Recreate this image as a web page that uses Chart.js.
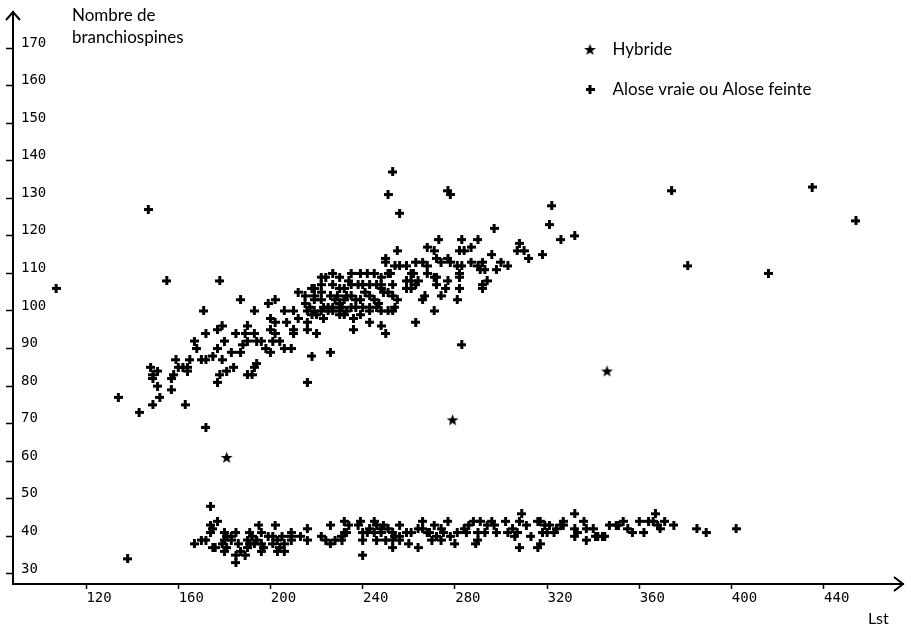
<!DOCTYPE html>
<html>
<head>
<meta charset="utf-8">
<script src="https://cdn.jsdelivr.net/npm/chart.js@4"></script>
<style>
  html, body { margin: 0; padding: 0; background: #fff; }
</style>
</head>
<body>
<canvas id="scatter" width="911" height="630"></canvas>
<script>
"use strict";

const xTicks = [120, 160, 200, 240, 280, 320, 360, 400, 440];
const yTicks = [30, 40, 50, 60, 70, 80, 90, 100, 110, 120, 130, 140, 150, 160, 170];

// Lst, nombre de branchiospines
const hybridPairs = [[181, 61], [279, 71], [346, 84]];

// upper group (Alose vraie)
const aloseUpper = [
  [107,106],[147,127],[374,132],[381,112],[416,110],[435,133],[454,124],
  [155,108],[178,108],[187,103],[171,100],[193,100],[199,102],[202,103],[212,105],[206,100],[210,100],
  [212,98],[200,98],[202,97],[207,97],[210,95],[210,94],[200,95],[202,94],[179,96],[177,95],[172,94],
  [167,92],[168,90],[185,94],[190,96],[189,94],[193,94],[190,92],[188,91],[194,92],[196,92],[201,92],
  [204,92],[198,90],[200,89],[206,90],[209,90],[177,90],[180,92],[172,87],[170,87],[175,88],[179,87],
  [183,89],[187,89],[165,87],[159,87],[160,85],[162,85],[164,85],[164,84],[158,83],[157,82],[148,85],
  [151,84],[149,83],[149,82],[151,80],[157,79],[152,77],[149,75],[134,77],[143,73],[163,75],[177,81],
  [178,83],[181,84],[184,85],[194,86],[193,85],[190,83],[192,83],[172,69],
  [253,137],[251,131],[256,126],[277,132],[278,131],[273,119],[283,119],[290,119],[255,116],[268,117],
  [271,116],[282,116],[284,116],[287,117],[250,114],[250,113],[263,113],[272,114],[274,113],[277,114],
  [278,113],[266,113],[268,112],[287,113],[290,112],[281,112],[283,112],[254,112],[256,112],[259,112],
  [261,110],[262,110],[268,110],[271,109],[282,110],[277,108],[272,109],[272,107],[282,106],[281,103],
  [271,100],[263,97],[283,91],[274,104],[266,103],[267,104],[259,108],[261,108],[264,108],[259,106],
  [261,106],[263,107],[252,110],[251,110],[248,109],[253,107],[251,105],[253,104],[255,103],[254,101],
  [248,106],[249,105],[245,110],[242,110],[239,110],[235,110],[230,109],[234,108],[227,110],[224,109],
  [222,109],[240,107],[238,107],[235,107],[232,106],[230,106],[243,107],[246,107],[248,107],[227,107],
  [222,107],[219,106],[218,106],[222,105],[219,104],[215,104],[226,104],[229,104],[233,104],[235,104],
  [241,105],[243,104],[245,103],[247,102],[237,103],[239,103],[228,103],[230,102],[232,103],[222,103],
  [219,103],[215,102],[217,101],[216,100],[223,101],[225,101],[227,101],[230,101],[231,101],[235,101],
  [237,101],[240,101],[243,101],[246,101],[248,100],[251,100],[253,100],[219,100],[222,100],[225,100],
  [227,100],[230,100],[233,100],[218,99],[220,99],[230,99],[232,99],[236,98],[239,99],[243,100],
  [216,97],[223,98],[243,97],[248,96],[250,94],[236,95],[216,95],[220,94],[218,88],[226,89],[216,81],
  [322,128],[321,123],[326,119],[332,120],[297,122],[308,118],[307,116],[310,116],[312,114],[318,115],
  [296,115],[300,113],[303,112],[292,113],[291,111],[293,111],[298,111],[282,109],[294,108],[292,107],
  [292,106],[276,106]
];

// lower group (Alose feinte)
const aloseLower = [
  [138,34],
  [174,48],[177,44],[174,43],[175,42],[174,41],[167,38],[170,39],[172,39],[175,37],[176,37],[180,41],
  [181,40],[183,40],[185,41],[180,39],[183,39],[181,37],[179,38],[180,36],[185,35],[185,33],[189,35],
  [186,38],[187,36],[191,41],[192,40],[190,39],[191,38],[193,38],[190,37],[195,43],[196,41],[194,39],
  [196,38],[197,37],[196,36],[199,40],[201,40],[202,43],[201,38],[203,39],[204,37],[203,36],[206,38],
  [206,36],[205,40],[209,41],[209,40],[209,39],[213,40],[216,42],[216,39],[222,40],[224,39],[226,43],
  [226,38],[228,39],[231,39],[233,41],[232,44],
  [234,43],[232,41],[231,40],[239,44],[238,43],[240,41],[242,41],[243,42],[240,39],[240,35],[245,44],
  [246,43],[248,42],[245,41],[248,41],[246,39],[250,39],[249,43],[251,42],[253,41],[256,43],[254,40],
  [256,40],[253,39],[256,39],[253,37],[259,41],[260,38],[264,37],[261,41],[264,42],[266,44],[266,42],
  [268,41],[269,41],[271,43],[272,40],[270,39],[274,42],[277,44],[275,41],[278,40],[280,38],[274,39],
  [281,41],[284,42],[286,43],[288,44],[285,41],[289,38],[290,39],[291,44],[294,43],[296,44],[297,43],
  [293,41],[298,41],[290,41],[302,44],[305,42],[303,41],[307,41],[306,40],[309,46],[308,44],[311,43],
  [308,37],[313,40],[316,44],[316,37],
  [317,38],[317,44],[319,43],[318,41],[321,43],[320,41],[323,41],[324,42],[327,44],[327,43],[326,43],
  [332,46],[332,42],[333,41],[332,40],[336,44],[337,42],[340,42],[337,39],[341,40],[342,40],[344,40],
  [345,40],[347,43],[350,43],[351,43],[353,44],[355,42],[357,41],[360,44],[362,41],[364,44],[366,44],
  [368,43],[367,46],[369,42],[371,44],[375,43],[385,42],[389,41],[402,42]
];

function toPoints(pairs) {
  return pairs.map(p => ({x: p[0], y: p[1]}));
}

// markers: filled star and bold plus
function makeStar() {
  const c = document.createElement("canvas");
  c.width = 13; c.height = 13;
  const g = c.getContext("2d");
  g.fillStyle = "#000";
  g.beginPath();
  for (let i = 0; i < 10; i++) {
    const r = i % 2 === 0 ? 6.2 : 2.6;
    const a = -Math.PI / 2 + i * Math.PI / 5;
    const px = 6.5 + r * Math.cos(a), py = 7 + r * Math.sin(a);
    if (i === 0) g.moveTo(px, py); else g.lineTo(px, py);
  }
  g.closePath();
  g.fill();
  return c;
}

function makePlus() {
  const c = document.createElement("canvas");
  c.width = 9; c.height = 9;
  const g = c.getContext("2d");
  g.fillStyle = "#000";
  g.fillRect(0, 3, 9, 3);
  g.fillRect(3, 0, 3, 9);
  return c;
}

const starImg = makeStar();
const plusImg = makePlus();

const decor = {
  id: "decor",
  afterLayout(chart) {
    // legend sits inside the plot, top right
    chart.legend.left = 553;
    chart.legend.top = 18;
  },
  afterDraw(chart) {
    const {ctx, chartArea} = chart;
    ctx.save();
    ctx.strokeStyle = "#000";
    ctx.lineWidth = 2;
    // arrow heads
    ctx.beginPath();
    ctx.moveTo(chartArea.left - 7, chartArea.top + 8);
    ctx.lineTo(chartArea.left, chartArea.top);
    ctx.lineTo(chartArea.left + 7, chartArea.top + 8);
    ctx.moveTo(chartArea.right - 9, chartArea.bottom - 7);
    ctx.lineTo(chartArea.right, chartArea.bottom);
    ctx.lineTo(chartArea.right - 9, chartArea.bottom + 7);
    ctx.stroke();

    ctx.fillStyle = "#000";
    ctx.font = "17px Lato";
    ctx.textAlign = "left";
    ctx.textBaseline = "middle";
    ctx.fillText("Nombre de", 72, 16);
    ctx.fillText("branchiospines", 72, 38);
    ctx.font = "16px Lato";
    ctx.fillText("Lst", 868, 619);
    ctx.restore();
  }
};

const ctx = document.getElementById("scatter").getContext("2d");

const chart = new Chart(ctx, {
  type: "scatter",
  data: {
    datasets: [
      {
        label: "Hybride",
        data: toPoints(hybridPairs),
        pointStyle: starImg,
        pointRadius: 5,
        borderColor: "#000",
        backgroundColor: "#000",
      },
      {
        label: "Alose vraie ou Alose feinte",
        data: toPoints(aloseUpper.concat(aloseLower)),
        pointStyle: plusImg,
        pointRadius: 4,
        borderColor: "#000",
        backgroundColor: "#000",
      },
    ],
  },
  options: {
    responsive: false,
    animation: false,
    events: [],
    layout: {
      padding: {top: 12, right: 8, bottom: 0, left: 0},
    },
    plugins: {
      tooltip: {enabled: false},
      legend: {
        position: "chartArea",
        align: "start",
        labels: {
          usePointStyle: true,
          pointStyleWidth: 28,
          padding: 23,
          color: "#000",
          font: {family: "Lato", size: 17},
        },
      },
    },
    scales: {
      x: {
        type: "linear",
        min: 88.3,
        max: 474.4,
        afterBuildTicks: (axis) => {
          axis.ticks = xTicks.map(v => ({value: v}));
        },
        afterFit: (scale) => {
          scale.height = 46;
          scale.paddingLeft = 0;
          scale.paddingRight = 0;
        },
        border: {display: true, color: "#000", width: 2},
        grid: {drawOnChartArea: false, tickLength: 5, color: "#000", tickWidth: 1.5},
        ticks: {
          padding: 1,
          labelOffset: 13,
          color: "#000",
          font: {family: "DejaVu Sans Mono", size: 14},
        },
      },
      y: {
        type: "linear",
        min: 27.3,
        max: 179.6,
        afterBuildTicks: (axis) => {
          axis.ticks = yTicks.map(v => ({value: v}));
        },
        afterFit: (scale) => {
          scale.width = 13;
          scale.paddingTop = 0;
          scale.paddingBottom = 0;
        },
        border: {display: true, color: "#000", width: 2},
        grid: {drawOnChartArea: false, tickLength: 7, color: "#000", tickWidth: 1.5},
        ticks: {
          mirror: true,
          padding: 8,
          labelOffset: -5,
          color: "#000",
          font: {family: "DejaVu Sans Mono", size: 14},
        },
      },
    },
  },
  plugins: [decor],
});
</script>
</body>
</html>
